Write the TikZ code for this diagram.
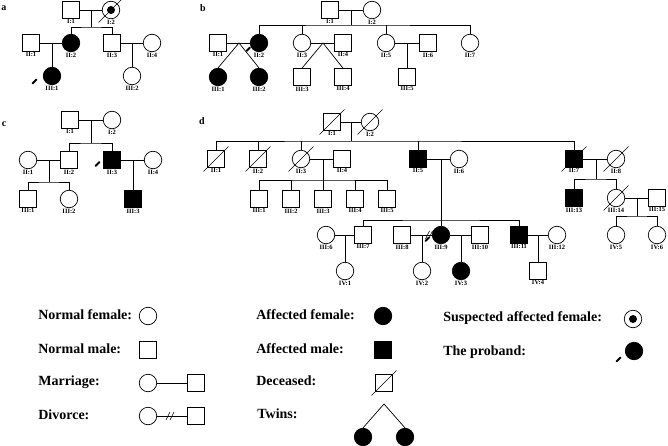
\documentclass[tikz,border=0pt]{standalone}
\usepackage{fontspec}
\setmainfont{Liberation Serif}
\usetikzlibrary{positioning,calc}

\begin{document}
\begin{tikzpicture}[x=1pt,y=-1pt,line width=0.7pt]
	\tikzset{
	    male/.style={rectangle,draw,minimum size=17pt,inner sep=0pt},
	    female/.style={circle,draw,minimum size=17.5pt,inner sep=0pt},
	    aff/.style={fill=black},
	    susp/.style={female,path picture={\fill (path picture bounding box.center) circle (4pt);}},
	    every label/.style={font=\fontsize{6.5}{7}\selectfont\bfseries,inner sep=0.5pt},
	    legtext/.style={anchor=west,inner sep=0pt,font=\fontsize{14}{16}\selectfont\bfseries},
	    panel/.style={font=\fontsize{10}{12}\selectfont\bfseries},
	    dead/.style={line width=0.6pt},
	    proband/.style={line width=2pt,line cap=round},
	    divorce/.style={line width=0.6pt}
	}
	\useasboundingbox (0,0) rectangle (668,446);

	% panel a
	\node[panel] (aTag) at (4,8) {a};
	\node[male,label=below:{I:1}] (aI1) at (71,10) {};
	\node[susp,label=below:{I:2}] (aI2) at (111,10) {};
	\node[male,label=below:{II:1}] (aII1) at (31,43) {};
	\node[female,aff,label=below:{II:2}] (aII2) at (71,43) {};
	\node[male,label=below:{II:3}] (aII3) at (112,43) {};
	\node[female,label=below:{II:4}] (aII4) at (152,43) {};
	\node[female,aff,label=below:{III:1}] (aIII1) at (52,76) {};
	\node[female,label=below:{III:2}] (aIII2) at (132,76) {};
	\coordinate (aF1) at (91,10);
	\coordinate (aS1) at (91,27);
	\coordinate (aF2) at (52,43);
	\coordinate (aF3) at (132,43);

	\draw (aI1) -- (aI2);
	\draw (aF1) -- (aS1);
	\draw (aII2) |- (aS1) -| (aII3);
	\draw (aII1) -- (aII2);
	\draw (aII3) -- (aII4);
	\draw (aF2) -- (aIII1);
	\draw (aF3) -- (aIII2);

	% panel b
	\node[panel] (bTag) at (203,8) {b};
	\node[male,label=below:{I:1}] (bI1) at (330,10) {};
	\node[female,label=below:{I:2}] (bI2) at (372,10) {};
	\node[male,label=below:{II:1}] (bII1) at (218,43) {};
	\node[female,aff,label=below:{II:2}] (bII2) at (259,43) {};
	\node[female,label=below:{II:3}] (bII3) at (302,43) {};
	\node[male,label=below:{II:4}] (bII4) at (343,43) {};
	\node[female,label=below:{II:5}] (bII5) at (386,43) {};
	\node[male,label=below:{II:6}] (bII6) at (428,43) {};
	\node[female,label=below:{II:7}] (bII7) at (470,43) {};
	\node[female,aff,label=below:{III:1}] (bIII1) at (218,77) {};
	\node[female,aff,label=below:{III:2}] (bIII2) at (259,77) {};
	\node[male,label=below:{III:3}] (bIII3) at (302,77) {};
	\node[male,label=below:{III:4}] (bIII4) at (343,77) {};
	\node[male,label=below:{III:5}] (bIII5) at (407,77) {};
	\coordinate (bF1) at (351,10);
	\coordinate (bS1) at (351,25);
	\coordinate (bF2) at (239,43);
	\coordinate (bF3) at (323,43);
	\coordinate (bF4) at (407,43);

	\draw (bI1) -- (bI2);
	\draw (bF1) -- (bS1);
	\draw (bII2) |- (bS1) -| (bII7);
	\draw (bII3) -- (bII3 |- bS1);
	\draw (bII5) -- (bII5 |- bS1);
	\draw (bII1) -- (bII2);
	\draw (bII3) -- (bII4);
	\draw (bII5) -- (bII6);
	\draw (bIII1.north) -- (bF2) -- (bIII2.north);
	\draw (bIII3.north) -- (bF3) -- (bIII4.north);
	\draw (bF4) -- (bIII5);

	% panel c
	\node[panel] (cTag) at (4,124) {c};
	\node[male,label=below:{I:1}] (cI1) at (70,120) {};
	\node[female,label=below:{I:2}] (cI2) at (112,120) {};
	\node[female,label=below:{II:1}] (cII1) at (28,160) {};
	\node[male,label=below:{II:2}] (cII2) at (69,160) {};
	\node[male,aff,label=below:{II:3}] (cII3) at (112,160) {};
	\node[female,label=below:{II:4}] (cII4) at (153,160) {};
	\node[male,label=below:{III:1}] (cIII1) at (28,199) {};
	\node[female,label=below:{III:2}] (cIII2) at (69,199) {};
	\node[male,aff,label=below:{III:3}] (cIII3) at (133,199) {};
	\coordinate (cF1) at (91,120);
	\coordinate (cS1) at (91,143);
	\coordinate (cF2) at (49,160);
	\coordinate (cS2) at (49,182);
	\coordinate (cF3) at (133,160);

	\draw (cI1) -- (cI2);
	\draw (cF1) -- (cS1);
	\draw (cII2) |- (cS1) -| (cII3);
	\draw (cII1) -- (cII2);
	\draw (cF2) -- (cS2);
	\draw (cIII1) |- (cS2) -| (cIII2);
	\draw (cII3) -- (cII4);
	\draw (cF3) -- (cIII3);

	% panel d
	\node[panel] (dTag) at (202,121) {d};
	\node[male,label=below:{I:1}] (dI1) at (332,122) {};
	\node[female,label=below:{I:2}] (dI2) at (370,122) {};
	\node[male,label=below:{II:1}] (dII1) at (216,159) {};
	\node[male,label=below:{II:2}] (dII2) at (258,159) {};
	\node[female,label=below:{II:3}] (dII3) at (301,159) {};
	\node[male,label=below:{II:4}] (dII4) at (342,159) {};
	\node[male,aff,label=below:{II:5}] (dII5) at (418,159) {};
	\node[female,label=below:{II:6}] (dII6) at (459,159) {};
	\node[male,aff,label=below:{II:7}] (dII7) at (574,159) {};
	\node[female,label=below:{II:8}] (dII8) at (616,159) {};
	\node[male,label=below:{III:1}] (dIII1) at (259,199) {};
	\node[male,label=below:{III:2}] (dIII2) at (291,199) {};
	\node[male,label=below:{III:3}] (dIII3) at (323,199) {};
	\node[male,label=below:{III:4}] (dIII4) at (355,199) {};
	\node[male,label=below:{III:5}] (dIII5) at (387,199) {};
	\node[female,label=below:{III:6}] (dIII6) at (326,235) {};
	\node[male,label=below:{III:7}] (dIII7) at (363,235) {};
	\node[male,label=below:{III:8}] (dIII8) at (402,235) {};
	\node[female,aff,label=below:{III:9}] (dIII9) at (441,235) {};
	\node[male,label=below:{III:10}] (dIII10) at (480,235) {};
	\node[male,aff,label=below:{III:11}] (dIII11) at (519,235) {};
	\node[female,label=below:{III:12}] (dIII12) at (557,235) {};
	\node[male,aff,label=below:{III:13}] (dIII13) at (574,198) {};
	\node[female,label=below:{III:14}] (dIII14) at (616,198) {};
	\node[male,label=below:{III:15}] (dIII15) at (657,198) {};
	\node[female,label=below:{IV:1}] (dIV1) at (345,271) {};
	\node[female,label=below:{IV:2}] (dIV2) at (422,271) {};
	\node[female,aff,label=below:{IV:3}] (dIV3) at (461,271) {};
	\node[male,label=below:{IV:4}] (dIV4) at (538,271) {};
	\node[female,label=below:{IV:5}] (dIV5) at (616,235) {};
	\node[female,label=below:{IV:6}] (dIV6) at (657,235) {};
	\coordinate (dF1) at (351,122);
	\coordinate (dS1) at (351,141);
	\coordinate (dF2) at (323,159);
	\coordinate (dS2) at (323,180);
	\coordinate (dF3) at (441,159);
	\coordinate (dS3) at (441,220);
	\coordinate (dF4) at (345,235);
	\coordinate (dF5) at (422,235);
	\coordinate (dF6) at (461,235);
	\coordinate (dF7) at (538,235);
	\coordinate (dF8) at (596,159);
	\coordinate (dS4) at (596,179);
	\coordinate (dF9) at (637,198);
	\coordinate (dS5) at (637,216);
	\coordinate (dDv) at (429,235);

	\draw (dI1) -- (dI2);
	\draw (dF1) -- (dS1);
	\draw (dII1) |- (dS1) -| (dII7);
	\draw (dII2) -- (dII2 |- dS1);
	\draw (dII3) -- (dII3 |- dS1);
	\draw (dII5) -- (dII5 |- dS1);
	\draw (dII3) -- (dII4);
	\draw (dF2) -- (dS2);
	\draw (dIII1) |- (dS2) -| (dIII5);
	\draw (dIII2) -- (dIII2 |- dS2);
	\draw (dIII3) -- (dIII3 |- dS2);
	\draw (dIII4) -- (dIII4 |- dS2);
	\draw (dII5) -- (dII6);
	\draw (dF3) -- (dIII9);
	\draw (dIII7) |- (dS3) -| (dIII11);
	\draw (dIII6) -- (dIII7);
	\draw (dF4) -- (dIV1);
	\draw (dIII8) -- (dIII9);
	\draw (dF5) -- (dIV2);
	\draw (dIII9) -- (dIII10);
	\draw (dF6) -- (dIV3);
	\draw (dIII11) -- (dIII12);
	\draw (dF7) -- (dIV4);
	\draw (dII7) -- (dII8);
	\draw (dF8) -- (dS4);
	\draw (dIII13) |- (dS4) -| (dIII14);
	\draw (dIII14) -- (dIII15);
	\draw (dF9) -- (dS5);
	\draw (dIV5) |- (dS5) -| (dIV6);
	\draw[divorce] ([shift={(-3.5,4)}]dDv) -- ([shift={(0.5,-4)}]dDv);
	\draw[divorce] ([shift={(-0.5,4)}]dDv) -- ([shift={(3.5,-4)}]dDv);

	% legend
	\node[legtext] (tNF) at (38,315) {Normal female:};
	\node[legtext] (tNM) at (38,349) {Normal male:};
	\node[legtext] (tMa) at (38,382) {Marriage:};
	\node[legtext] (tDv) at (38,415) {Divorce:};
	\node[legtext] (tAF) at (256,315) {Affected female:};
	\node[legtext] (tAM) at (256,349) {Affected male:};
	\node[legtext] (tDe) at (256,381) {Deceased:};
	\node[legtext] (tTw) at (257,414) {Twins:};
	\node[legtext] (tSu) at (443,318) {Suspected affected female:};
	\node[legtext] (tPb) at (443,352) {The proband:};
	\node[female] (sNF) at (148,316) {};
	\node[male] (sNM) at (148,350) {};
	\node[female] (sMaF) at (148,383) {};
	\node[male] (sMaM) at (196,383) {};
	\node[female] (sDvF) at (148,416) {};
	\node[male] (sDvM) at (196,416) {};
	\node[female,aff] (sAF) at (383,316) {};
	\node[male,aff] (sAM) at (383,350) {};
	\node[male] (sDe) at (384,383) {};
	\node[female,aff] (sTw1) at (363,437) {};
	\node[female,aff] (sTw2) at (405,437) {};
	\node[susp] (sSu) at (633,319) {};
	\node[female,aff] (sPb) at (634,351) {};
	\coordinate (lgTw) at (384,404);
	\coordinate (lgDv) at (170,416);

	\draw (sMaF) -- (sMaM);
	\draw (sDvF) -- (sDvM);
	\draw[divorce] ([shift={(-4,4)}]lgDv) -- ([shift={(0,-4)}]lgDv);
	\draw[divorce] ([shift={(0,4)}]lgDv) -- ([shift={(4,-4)}]lgDv);
	\draw (sTw1.north) -- (lgTw) -- (sTw2.north);

	% deceased
	\foreach \n in {aI2,dI1,dI2,dII1,dII2,dII3,dII7,dII8,dIII14,sDe}
		\draw[dead] ([shift={(-12.5,12.5)}]\n.center) -- ([shift={(12.5,-12.5)}]\n.center);

	% proband
	\draw[proband] ([shift={(-19.5,7.5)}]aIII1.center) -- ([shift={(-15.5,3.5)}]aIII1.center);
	\draw[proband] ([shift={(-12.5,8)}]bII2.center) -- ([shift={(-9,4.5)}]bII2.center);
	\draw[proband] ([shift={(-16.5,6)}]cII3.center) -- ([shift={(-12.5,2)}]cII3.center);
	\draw[proband] ([shift={(-15.5,6)}]dIII9.center) -- ([shift={(-12,2.5)}]dIII9.center);
	\draw[proband] ([shift={(-17.5,10.5)}]sPb.center) -- ([shift={(-13.5,6.5)}]sPb.center);

\end{tikzpicture}
\end{document}
